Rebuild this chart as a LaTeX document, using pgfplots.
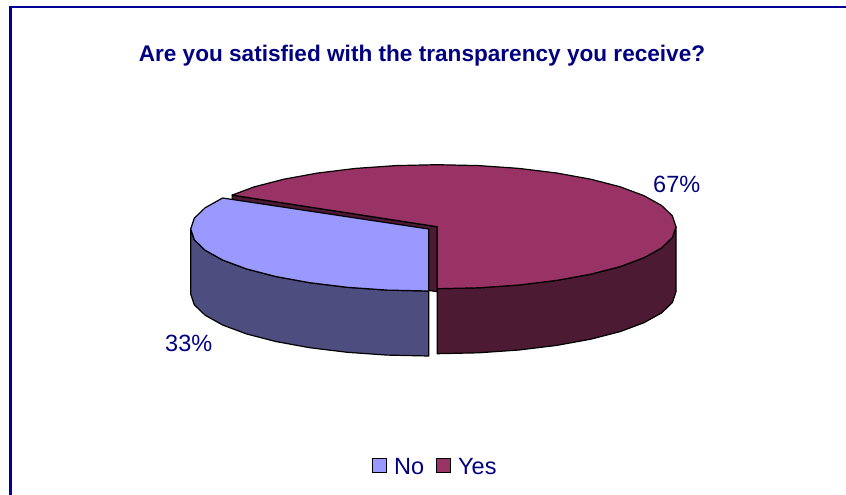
\documentclass[border=0pt]{standalone}
\usepackage{pgfplots}
\pgfplotsset{compat=1.18}
\usepackage{fontspec}
\setmainfont{Liberation Sans}
\definecolor{navytxt}{RGB}{0,0,128}
\definecolor{framec}{RGB}{0,0,150}
\definecolor{bluetop}{RGB}{153,153,255}
\definecolor{blueside}{RGB}{77,77,127}
\definecolor{redtop}{RGB}{153,51,102}
\definecolor{redside}{RGB}{77,26,51}
\begin{document}
\begin{tikzpicture}
\begin{axis}[
  at={(0pt,0pt)}, anchor=south west,
  width=846pt, height=495pt, scale only axis,
  xmin=0, xmax=846, ymin=0, ymax=495, y dir=reverse,
  axis lines=none, clip=true,
]
% page background and frame
\addplot[fill=white, draw=none] coordinates {(0,0) (846,0) (846,495) (0,495)} -- cycle;
\addplot[draw=framec, line width=2.2pt] coordinates {(10.5,495) (10.5,7) (846,7)};
% Yes: front side
\addplot[fill=redside, draw=black, line width=1.2pt, line join=round] coordinates {
 (676,226.7) (672.4,237.5) (661.6,247.9) (644,257.7) (620.2,266.6) (590.7,274.2)
 (556.65,280.4) (518.9,285) (478.7,287.8) (437.3,288.7)
 (437.3,353.7) (478.7,352.8) (518.9,350) (556.65,345.4) (590.7,339.2) (620.2,331.6)
 (644,322.7) (661.6,312.9) (672.4,302.5) (676,291.7)} -- cycle;
% Yes: cut face
\addplot[fill=redside, draw=black, line width=1.2pt, line join=round] coordinates {
 (437.3,226.7) (232.1,195.1) (232.1,260) (437.3,291.7)} -- cycle;
% Yes: top
\addplot[fill=redtop, draw=black, line width=1.2pt, line join=round] coordinates {
 (437.3,226.7) (232.1,195.1) (254.4,186.8) (283.9,179.2) (317.95,173) (355.7,168.4)
 (395.9,165.6) (437.3,164.7) (478.7,165.6) (518.9,168.4) (556.65,173) (590.7,179.2)
 (620.2,186.8) (644,195.7) (661.6,205.5) (672.4,215.9) (676,226.7) (672.4,237.5)
 (661.6,247.9) (644,257.7) (620.2,266.6) (590.7,274.2) (556.65,280.4) (518.9,285)
 (478.7,287.8) (437.3,288.7)} -- cycle;
% No: front side
\addplot[fill=blueside, draw=black, line width=1.2pt, line join=round] coordinates {
 (190.7,229) (194.3,239.8) (205.1,250.2) (222.6,260) (246.4,268.9) (275.7,276.5)
 (309.7,282.7) (347.3,287.3) (387.4,290.1) (428.7,291)
 (428.7,356) (387.4,355.1) (347.3,352.3) (309.7,347.7) (275.7,341.5) (246.4,333.9)
 (222.6,325) (205.1,315.2) (194.3,304.8) (190.7,294)} -- cycle;
% No: top
\addplot[fill=bluetop, draw=black, line width=1.2pt, line join=round] coordinates {
 (428.7,229) (222.6,198) (205.1,207.8) (194.3,218.2) (190.7,229) (194.3,239.8)
 (205.1,250.2) (222.6,260) (246.4,268.9) (275.7,276.5) (309.7,282.7) (347.3,287.3)
 (387.4,290.1) (428.7,291)} -- cycle;
% legend keys
\addplot[fill=bluetop, draw=black, line width=1.2pt] coordinates {(372.5,458.5) (386.5,458.5) (386.5,472.5) (372.5,472.5)} -- cycle;
\addplot[fill=redtop, draw=black, line width=1.2pt] coordinates {(436.5,458.5) (450.5,458.5) (450.5,472.5) (436.5,472.5)} -- cycle;
% text
\node[text=navytxt, font=\fontsize{22.6}{26}\selectfont\bfseries, anchor=base] at (axis cs:422,62) {Are you satisfied with the transparency you receive?};
\node[text=navytxt, font=\fontsize{23.5}{27}\selectfont, anchor=base west, inner sep=0pt] at (axis cs:653,192) {67\%};
\node[text=navytxt, font=\fontsize{23.5}{27}\selectfont, anchor=base west, inner sep=0pt] at (axis cs:165,351) {33\%};
\node[text=navytxt, font=\fontsize{23.5}{27}\selectfont, anchor=base west, inner sep=0pt] at (axis cs:394,474) {No};
\node[text=navytxt, font=\fontsize{23.5}{27}\selectfont, anchor=base west, inner sep=0pt] at (axis cs:458,474) {Yes};
\end{axis}
\end{tikzpicture}
\end{document}
